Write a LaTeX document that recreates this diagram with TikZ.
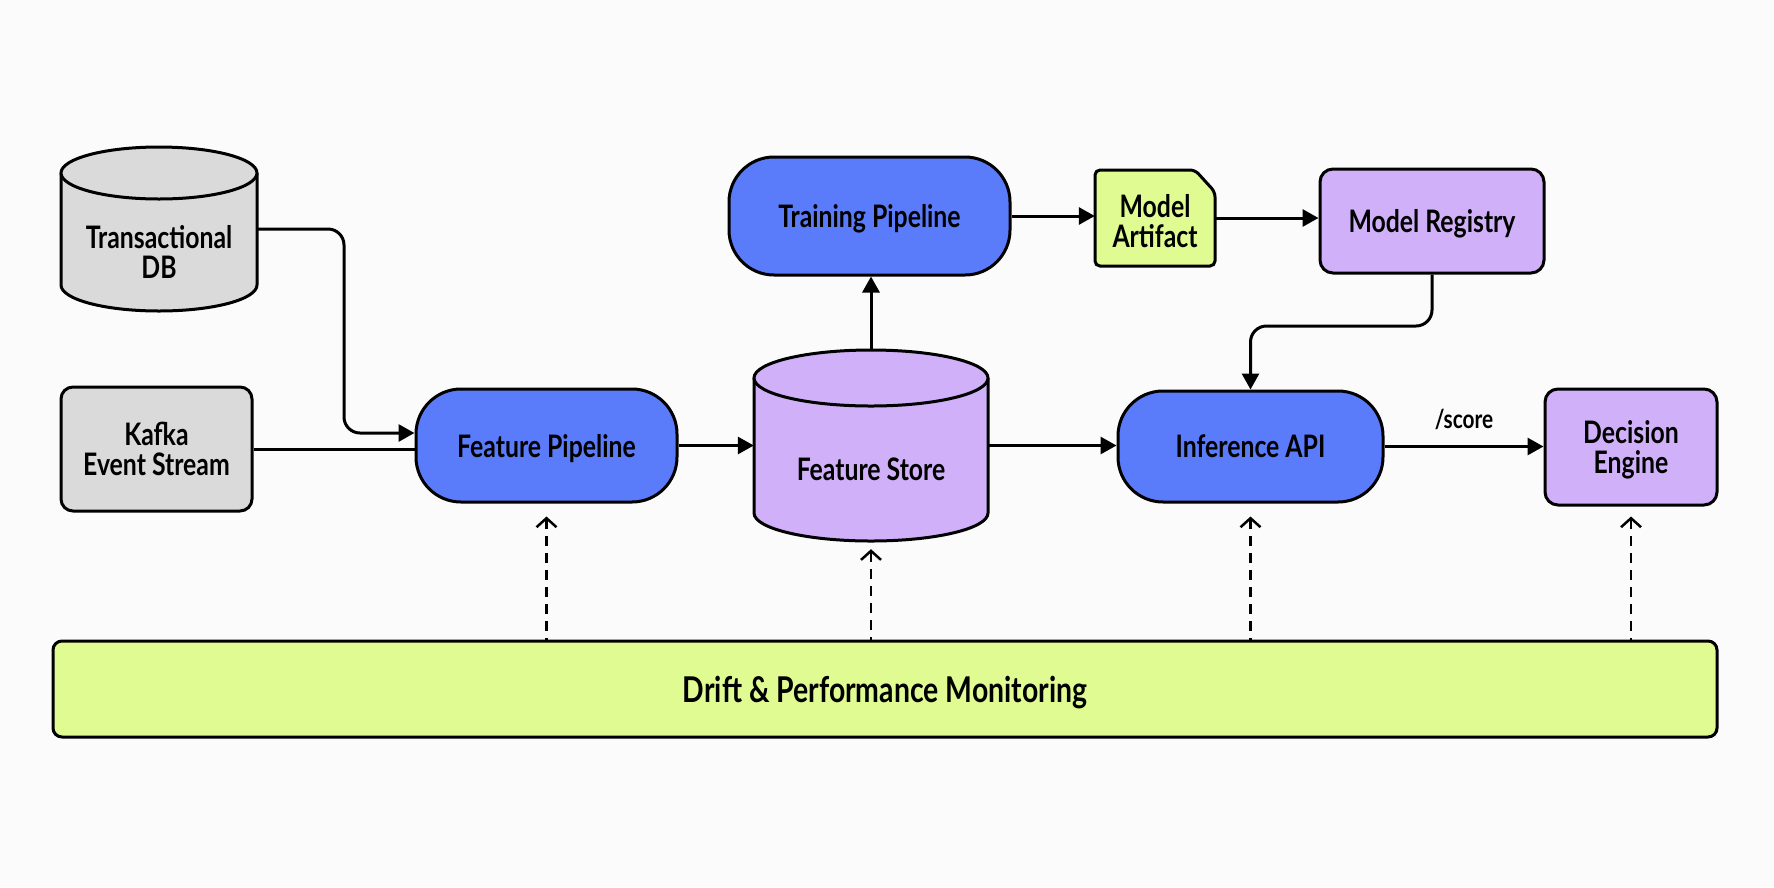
\documentclass[tikz,border=0pt]{standalone}
\usepackage{fontspec}
\setmainfont{Lato}[FakeStretch=0.8]
\usetikzlibrary{arrows.meta}
\definecolor{cblue}{HTML}{5B7CFA}
\definecolor{cpurple}{HTML}{D0B0F8}
\definecolor{clime}{HTML}{DFFB91}
\definecolor{cgray}{HTML}{DADADA}
\definecolor{cbg}{HTML}{FBFBFB}
\begin{document}
\begin{tikzpicture}[x=1pt,y=-1pt,
  lbl/.style={font=\bfseries\fontsize{31}{30}\selectfont, text=black, align=center, inner sep=0pt},
  base/.style={draw=black, line width=3pt},
  boxnode/.style={lbl, base, inner sep=0pt, text depth=0pt},
  pipe/.style={boxnode, fill=cblue, rounded corners=45pt},
  procbox/.style={boxnode, fill=cpurple, rounded corners=13pt},
  srcbox/.style={boxnode, fill=cgray, rounded corners=12pt},
  ghost/.style={draw=none, fill=none, inner sep=0pt},
  flow/.style={line width=3pt, -{Triangle[length=16pt,width=17pt]}},
  plain/.style={line width=3pt},
  mon/.style={line width=2.5pt, dash pattern=on 10pt off 7pt, {Straight Barb[length=9pt,width=20pt,line width=2.5pt]}-}
]
\useasboundingbox[fill=cbg] (0,0) rectangle (1774,887);

% Transactional DB cylinder
\draw[base, fill=cgray] (61,173) -- (61,285) arc[start angle=180,end angle=360,x radius=98pt,y radius=26pt] -- (257,173);
\draw[base, fill=cgray] (159,173) ellipse[x radius=98pt, y radius=26pt];
\node[ghost, minimum width=196pt, minimum height=164pt] (db) at (159,229) {};
\node[lbl] (dbtext) at (159,252) {Transactional\\DB};

% Kafka
\node[srcbox, minimum width=191pt, minimum height=124pt] (kafka) at (156.5,449) {Kafka\\Event Stream};

% Feature Pipeline
\node[pipe, minimum width=261pt, minimum height=113pt] (fp) at (546.5,445.5) {Feature Pipeline};

% Feature Store cylinder
\draw[base, fill=cpurple] (754,378) -- (754,513) arc[start angle=180,end angle=360,x radius=117pt,y radius=28pt] -- (988,378);
\draw[base, fill=cpurple] (871,378) ellipse[x radius=117pt, y radius=28pt];
\node[ghost, minimum width=234pt, minimum height=191pt] (fs) at (871,445.5) {};
\node[lbl] (fstext) at (871,469) {Feature Store};

% Training Pipeline
\node[pipe, minimum width=281pt, minimum height=118pt] (tp) at (869.5,216) {Training Pipeline};

% Model Artifact
\draw[base, fill=clime, rounded corners=5pt] (1095,170) -- (1195,170) -- (1215,192) -- (1215,266) -- (1095,266) -- cycle;
\node[ghost, minimum width=120pt, minimum height=96pt] (ma) at (1155,218) {};
\node[lbl] (matext) at (1155,221) {Model\\Artifact};

% Model Registry
\node[procbox, minimum width=224pt, minimum height=104pt] (mr) at (1432,221) {Model Registry};

% Inference API
\node[pipe, minimum width=265pt, minimum height=111pt] (inf) at (1250.5,446.5) {Inference API};

% Decision Engine
\node[procbox, minimum width=172pt, minimum height=116pt] (de) at (1631,447) {Decision\\Engine};

% Drift bar
\node[boxnode, fill=clime, rounded corners=9pt, minimum width=1664pt, minimum height=96pt, font=\bfseries\fontsize{35.5}{36}\selectfont] (drift) at (885,689) {Drift \& Performance Monitoring};

% connectors
\coordinate (dbbend) at (344,433);
\draw[flow, rounded corners=16pt] (db.east) -| (dbbend) -- (fp.west |- dbbend);
\draw[plain] (kafka.east) -- (fp.west |- kafka.east);
\draw[flow] (fp.east) -- (fs.west |- fp.east);
\draw[flow] (fs.east) -- (inf.west |- fs.east);
\draw[flow] (fs.north) -- (tp.south -| fs.north);
\draw[flow] (tp.east) -- (ma.west |- tp.east);
\draw[flow] (ma.east) -- (mr.west |- ma.east);
\coordinate (mrbend) at (1250.5,326);
\draw[flow, rounded corners=16pt] (mr.south) |- (mrbend) -- (inf.north);
\draw[flow] (inf.east) -- node[lbl, font=\bfseries\fontsize{26}{26}\selectfont, above=15pt] (score) {/score} (de.west |- inf.east);

% monitoring (drawn from the tip so the dashes meet the arrowhead)
\draw[mon] ([yshift=-13pt]fp.south) -- (drift.north -| fp.south);
\draw[mon] ([yshift=-8pt]fs.south) -- (drift.north -| fs.south);
\draw[mon] ([yshift=-13pt]inf.south) -- (drift.north -| inf.south);
\draw[mon] ([yshift=-10pt]de.south) -- (drift.north -| de.south);
\end{tikzpicture}
\end{document}
